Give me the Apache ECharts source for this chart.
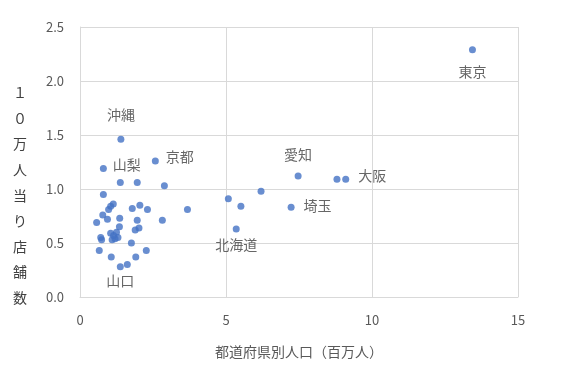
<!DOCTYPE html>
<html>
<head>
<meta charset="utf-8">
<script src="https://cdn.jsdelivr.net/npm/echarts@6/dist/echarts.min.js"></script>
<style>
  html, body { margin: 0; padding: 0; background: #fff; }
  #scatter-pref { width: 577px; height: 376px; }
</style>
</head>
<body>
<div id="scatter-pref"></div>
<script>
// 都道府県別人口（百万人）と10万人当り店舗数
var prefLabels = [
  '沖縄', '山梨', '京都', '', '', '', '', '', '', '', '', '', '', '', '', '', '', '', '', '', '', '', '',
  '', '', '', '', '', '', '', '', '', '', '', '', '', '', '山口',
  '愛知', '', '大阪', '', '', '', '埼玉', '北海道', '東京'
];
var population = [
  1.40, 0.80, 2.58, 1.38, 1.96, 2.89, 0.80, 1.14, 1.05, 0.98, 1.79, 2.05, 2.31, 3.68, 0.78, 0.94, 0.57, 1.36, 1.96, 2.82, 2.02, 1.89, 1.35,
  1.05, 1.15, 1.25, 1.30, 1.10, 1.20, 0.71, 0.74, 1.76, 0.66, 2.27, 1.07, 1.91, 1.62, 1.38,
  7.47, 8.80, 9.10, 6.20, 5.08, 5.51, 7.23, 5.35, 13.44
];
var storesPer100k = [
  1.46, 1.19, 1.26, 1.06, 1.06, 1.03, 0.95, 0.86, 0.84, 0.81, 0.82, 0.85, 0.81, 0.81, 0.76, 0.72, 0.69, 0.73, 0.71, 0.71, 0.64, 0.62, 0.65,
  0.59, 0.57, 0.60, 0.55, 0.53, 0.54, 0.55, 0.53, 0.50, 0.43, 0.43, 0.37, 0.37, 0.30, 0.28,
  1.12, 1.09, 1.09, 0.98, 0.91, 0.84, 0.83, 0.63, 2.29
];
var xTicks = [0, 5, 10, 15];
var yTicks = [0, 0.5, 1.0, 1.5, 2.0, 2.5];
var yTitle = '１０万人当り店舗数';

// position, distance, vertical offset
var labelPos = {
  '沖縄': ['top', 14, 0],
  '山梨': ['right', 6, -4],
  '京都': ['right', 7, -4],
  '山口': ['bottom', 3, 0],
  '愛知': ['top', 11, 0],
  '大阪': ['right', 9, -4],
  '埼玉': ['right', 9, -2],
  '北海道': ['bottom', 5, 0],
  '東京': ['bottom', 12, 0]
};

var font = '"Noto Sans CJK JP", "Noto Sans", sans-serif';

var points = population.map(function (x, i) {
  var name = prefLabels[i];
  var item = { name: name, value: [x, storesPer100k[i]] };
  if (name) {
    item.label = {
      show: true,
      formatter: '{b}',
      position: labelPos[name][0],
      distance: labelPos[name][1],
      offset: [0, labelPos[name][2]],
      color: '#404040',
      fontSize: 14,
      fontFamily: font
    };
  }
  return item;
});

var myChart = echarts.init(document.getElementById('scatter-pref'));

var option = {
  animation: false,
  grid: { left: 80, right: 59, top: 27, bottom: 79 },
  graphic: [{
    type: 'text',
    left: 13,
    top: 80,
    style: {
      text: yTitle.split('').join('\n'),
      fill: '#404040',
      font: '14px ' + font,
      lineHeight: 25.6,
      align: 'center'
    }
  }],
  xAxis: {
    type: 'value',
    min: xTicks[0],
    max: xTicks[xTicks.length - 1],
    interval: 5,
    name: '都道府県別人口（百万人）',
    nameLocation: 'middle',
    nameGap: 48,
    nameTextStyle: { color: '#595959', fontSize: 14, fontFamily: font },
    axisLine: { show: true, lineStyle: { color: '#d9d9d9' } },
    axisTick: { show: false },
    axisLabel: { color: '#595959', fontSize: 13, margin: 17, fontFamily: font },
    splitLine: { show: true, lineStyle: { color: '#d9d9d9' } }
  },
  yAxis: {
    type: 'value',
    min: yTicks[0],
    max: yTicks[yTicks.length - 1],
    interval: 0.5,
    axisLine: { show: true, lineStyle: { color: '#d9d9d9' } },
    axisTick: { show: false },
    axisLabel: {
      color: '#595959',
      fontSize: 13,
      margin: 16,
      fontFamily: font,
      formatter: function (v) { return v.toFixed(1); }
    },
    splitLine: { show: true, lineStyle: { color: '#d9d9d9' } }
  },
  series: [{
    type: 'scatter',
    symbol: 'circle',
    symbolSize: 7,
    itemStyle: { color: '#4472c4' },
    data: points
  }]
};

myChart.setOption(option);
</script>
</body>
</html>
